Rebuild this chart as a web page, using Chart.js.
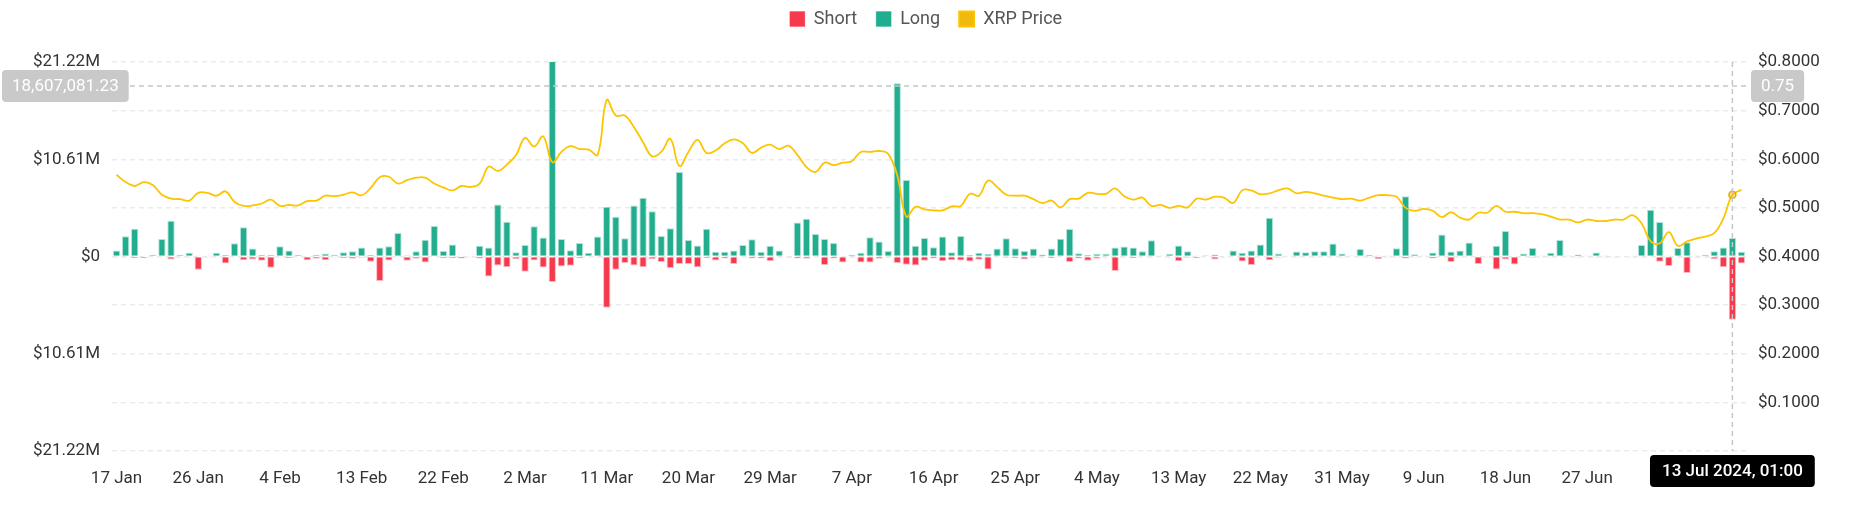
<!DOCTYPE html>
<html>
<head>
<meta charset="utf-8">
<title>XRP liquidations</title>
<script src="https://cdn.jsdelivr.net/npm/chart.js@4.4.1/dist/chart.umd.min.js"></script>
<style>
  html, body { margin: 0; padding: 0; background: #fff; }
  #wrap { width: 1852px; height: 525px; }
</style>
</head>
<body>
<div id="wrap"><canvas id="liq" width="1852" height="525"></canvas></div>
<script>
// days from 17 Jan 2024 to 14 Jul 2024
var startDate = new Date(2024, 0, 17);
var dayCount = 180;
var monthNames = ["Jan","Feb","Mar","Apr","May","Jun","Jul","Aug","Sep","Oct","Nov","Dec"];
var labels = [];
for (let i = 0; i < dayCount; i++) {
    var d = new Date(startDate.getFullYear(), startDate.getMonth(), startDate.getDate() + i);
    labels.push(d.getDate() + " " + monthNames[d.getMonth()]);
}

// long liquidations, millions USD
var longVals = [
    0.65,2.2,3.04,0.07,0.2,1.9,3.9,0.2,0.4,0.02,
    0.1,0.4,0.2,1.45,3.18,0.87,0.2,0.2,1.12,0.65,
    0.2,0.07,0.18,0.33,0.2,0.47,0.58,0.98,0.2,0.98,
    1.12,2.57,0.14,0.58,1.84,3.32,0.61,1.3,0.07,0.07,
    1.16,0.98,5.67,3.79,0.47,1.26,3.29,2.06,22.5,1.92,
    0.69,1.48,0.4,2.17,5.42,4.34,1.99,5.57,6.4,4.95,
    2.24,3.07,9.22,1.81,1.19,3.04,0.51,0.51,0.65,1.26,
    1.88,0.51,1.16,0.65,0.07,3.72,4.12,2.46,1.92,1.48,
    0.07,0.18,0.4,2.1,1.63,0.61,18.9,8.35,1.16,2.02,
    1.01,2.17,0.47,2.24,0.18,0.4,0.29,0.87,1.99,0.9,
    0.61,0.87,0.22,0.87,1.95,3.0,0.36,0.18,0.29,0.29,
    0.98,1.08,0.98,0.58,1.77,0.04,0.29,1.19,0.58,0.11,
    0.14,0.22,0.07,0.65,0.4,0.65,1.3,4.23,0.33,0.1,
    0.54,0.47,0.58,0.58,1.41,0.33,0.04,0.83,0.18,0.04,
    0.04,0.9,6.58,0.25,0.04,0.43,2.39,0.54,0.65,1.52,
    0.1,0.07,1.16,2.78,0.07,0.33,0.94,0.04,0.4,1.81,
    0.04,0.22,0.04,0.43,0.04,0.07,0.07,0.1,1.26,5.1,
    3.76,0.04,0.94,1.55,0.04,0.18,0.58,0.98,2.02,0.51
];

// short liquidations, millions USD (drawn below zero)
var shortVals = [
    0.02,0.02,0.2,0.18,0,0.1,0.33,0.05,0.05,1.45,
    0.02,0.1,0.76,0.1,0.4,0.33,0.47,1.23,0.05,0.2,
    0.1,0.4,0.25,0.4,0.05,0.2,0.25,0.14,0.58,2.67,
    0.43,0.1,0.47,0.25,0.65,0.07,0.18,0.18,0.22,0.04,
    0.22,2.17,0.98,1.16,0.29,1.66,0.43,1.19,2.78,1.08,
    1.01,0.18,0.1,0.04,5.6,1.45,0.72,0.98,1.16,0.29,
    0.61,1.26,0.83,0.83,1.16,0.18,0.43,0.22,0.83,0.1,
    0.22,0.22,0.51,0.04,0.04,0.22,0.25,0.07,0.94,0.22,
    0.65,0.04,0.65,0.65,0.25,0.04,0.72,0.9,0.98,0.47,
    0.22,0.51,0.4,0.43,0.54,0.36,1.41,0.07,0.14,0.18,
    0.33,0.14,0.04,0.18,0.07,0.61,0.22,0.47,0.25,0.04,
    1.59,0.04,0.18,0.1,0.04,0.07,0.04,0.51,0.14,0.18,
    0.07,0.33,0.02,0.07,0.54,0.94,0.1,0.4,0.14,0.07,
    0.04,0.1,0.04,0.07,0.1,0.04,0.07,0.04,0.04,0.29,
    0.04,0.04,0.22,0.04,0.07,0.22,0.1,0.61,0.04,0.1,
    0.83,0.04,1.41,0.33,0.87,0.07,0.14,0.04,0.04,0.07,
    0.1,0.04,0.1,0.04,0.04,0.04,0.07,0.04,0.04,0.07,
    0.58,1.05,0.04,1.81,0.04,0.04,0.29,1.16,6.9,0.76
];

// XRP price, USD
var priceVals = [
    0.568,0.553,0.545,0.553,0.547,0.527,0.519,0.518,0.515,0.531,
    0.531,0.525,0.534,0.512,0.504,0.505,0.509,0.517,0.504,0.506,
    0.505,0.514,0.515,0.525,0.524,0.527,0.532,0.526,0.541,0.563,
    0.564,0.550,0.557,0.562,0.562,0.550,0.542,0.536,0.545,0.543,
    0.550,0.585,0.576,0.589,0.608,0.644,0.626,0.647,0.594,0.615,
    0.627,0.621,0.620,0.609,0.722,0.690,0.690,0.666,0.635,0.606,
    0.615,0.642,0.586,0.615,0.640,0.613,0.618,0.633,0.641,0.633,
    0.613,0.624,0.630,0.621,0.628,0.609,0.584,0.574,0.593,0.588,
    0.593,0.596,0.615,0.615,0.617,0.611,0.567,0.482,0.502,0.497,
    0.495,0.495,0.503,0.504,0.529,0.525,0.556,0.543,0.527,0.525,
    0.525,0.518,0.510,0.515,0.501,0.518,0.519,0.531,0.529,0.529,
    0.540,0.524,0.517,0.521,0.504,0.506,0.500,0.504,0.501,0.519,
    0.517,0.523,0.521,0.510,0.536,0.536,0.528,0.530,0.536,0.540,
    0.530,0.533,0.530,0.525,0.521,0.518,0.519,0.515,0.521,0.526,
    0.526,0.523,0.500,0.494,0.498,0.494,0.481,0.491,0.480,0.476,
    0.490,0.490,0.504,0.492,0.492,0.489,0.489,0.487,0.482,0.476,
    0.476,0.470,0.476,0.473,0.473,0.476,0.476,0.485,0.468,0.431,
    0.427,0.450,0.422,0.431,0.437,0.441,0.448,0.478,0.527,0.537
];

// axis ranges and the hovered point shown in the picture
var yMax = 21.22e6;
var yTicks = [-4,-3,-2,-1,0,1,2,3,4].map(k => k * yMax / 4);
var hoverIndex = 178;
var hoverValue = 18607081.23;
var hoverTime = "13 Jul 2024, 01:00";

const RED = "#f6394c";
const GREEN = "#23ad8f";
const GOLD = "#fcc500";
const FONT = "Roboto";

Chart.defaults.font.family = FONT;
Chart.defaults.font.size = 17;
Chart.defaults.color = "#333";

function fmtMoney(v){
    if (Math.abs(v) < 1) return "$0";
    return "$" + (Math.abs(v) / 1e6).toFixed(2) + "M";
}

function roundBox(ctx, x, y, w, h, r){
    ctx.beginPath();
    ctx.moveTo(x + r, y);
    ctx.lineTo(x + w - r, y);
    ctx.quadraticCurveTo(x + w, y, x + w, y + r);
    ctx.lineTo(x + w, y + h - r);
    ctx.quadraticCurveTo(x + w, y + h, x + w - r, y + h);
    ctx.lineTo(x + r, y + h);
    ctx.quadraticCurveTo(x, y + h, x, y + h - r);
    ctx.lineTo(x, y + r);
    ctx.quadraticCurveTo(x, y, x + r, y);
    ctx.closePath();
}

// more room under the legend
const legendGap = {
    id: "legendGap",
    beforeInit(chart){
        var fit = chart.legend.fit;
        chart.legend.fit = function(){
            fit.call(this);
            this.height += 24;
        }
    }
};

// dashed crosshair and the three value boxes
const crosshair = {
    id: "crosshair",
    afterDatasetsDraw(chart){
        var ctx = chart.ctx, area = chart.chartArea;
        var x = chart.scales.x.getPixelForValue(hoverIndex);
        var y = chart.scales.y.getPixelForValue(hoverValue);
        ctx.save();
        ctx.strokeStyle = "#c6c6c6";
        ctx.lineWidth = 1.5;
        ctx.setLineDash([5,4]);
        ctx.beginPath();
        ctx.moveTo(area.left, y); ctx.lineTo(area.right, y);
        ctx.moveTo(x, area.top); ctx.lineTo(x, area.bottom);
        ctx.stroke();
        ctx.restore();
    },
    afterDraw(chart){
        var ctx = chart.ctx, area = chart.chartArea;
        var x = chart.scales.x.getPixelForValue(hoverIndex);
        var y = chart.scales.y.getPixelForValue(hoverValue);
        var leftText = hoverValue.toLocaleString("en-US", {minimumFractionDigits: 2, maximumFractionDigits: 2});
        var rightText = chart.scales.y1.getValueForPixel(y).toFixed(2);

        ctx.save();
        ctx.font = "17px " + FONT;
        ctx.textBaseline = "middle";
        ctx.textAlign = "center";

        // left value
        var w = ctx.measureText(leftText).width + 20;
        ctx.fillStyle = "#c9c9c9";
        roundBox(ctx, 2, y - 16, w, 32, 4);
        ctx.fill();
        ctx.fillStyle = "#fff";
        ctx.fillText(leftText, 2 + w / 2, y + 1);

        // right value
        var w2 = ctx.measureText(rightText).width + 20;
        ctx.fillStyle = "#c9c9c9";
        roundBox(ctx, area.right + 5, y - 16, w2, 32, 4);
        ctx.fill();
        ctx.fillStyle = "#fff";
        ctx.fillText(rightText, area.right + 5 + w2 / 2, y + 1);

        // time box under the axis
        ctx.font = "500 17px " + FONT;
        var w3 = ctx.measureText(hoverTime).width + 24;
        ctx.fillStyle = "#000";
        roundBox(ctx, x - w3 / 2, area.bottom + 4, w3, 32, 4);
        ctx.fill();
        ctx.fillStyle = "#fff";
        ctx.fillText(hoverTime, x, area.bottom + 21);
        ctx.restore();
    }
};

const ctx = document.getElementById("liq");

const liqChart = new Chart(ctx, {
    type: "bar",
    data: {
        labels: labels,
        datasets: [
            {
                label: "Short",
                data: shortVals.map(v => -v * 1e6),
                backgroundColor: RED,
                borderColor: "rgba(246,57,76,0.35)",
                borderWidth: 1,
                stack: "liq",
                yAxisID: "y",
                order: 2,
                categoryPercentage: 0.9,
                barPercentage: 0.9
            },
            {
                label: "Long",
                data: longVals.map(v => v * 1e6),
                backgroundColor: GREEN,
                borderColor: "rgba(35,173,143,0.35)",
                borderWidth: 1,
                stack: "liq",
                yAxisID: "y",
                order: 2,
                categoryPercentage: 0.9,
                barPercentage: 0.9
            },
            {
                type: "line",
                label: "XRP Price",
                data: priceVals,
                yAxisID: "y1",
                borderColor: GOLD,
                backgroundColor: "#f0b90b",
                borderWidth: 1.8,
                tension: 0.4,
                pointRadius: priceVals.map((p, i) => i === hoverIndex ? 3.5 : 0),
                pointBackgroundColor: "rgba(240,185,11,0.45)",
                pointBorderColor: "#e2ab00",
                pointBorderWidth: 1.5,
                order: 0
            }
        ]
    },
    options: {
        responsive: false,
        animation: false,
        events: [],
        layout: { padding: { top: -9, left: 0, right: 0, bottom: 0 } },
        plugins: {
            tooltip: { enabled: false },
            legend: {
                position: "top",
                labels: {
                    boxWidth: 15,
                    boxHeight: 15,
                    padding: 19,
                    color: "#555",
                    font: { size: 18 },
                    sort: (a, b) => a.datasetIndex - b.datasetIndex
                }
            }
        },
        scales: {
            x: {
                stacked: true,
                offset: true,
                grid: { display: false },
                border: { display: false },
                ticks: {
                    autoSkip: false,
                    maxRotation: 0,
                    padding: 10,
                    color: "#333",
                    callback: (v, i) => i % 9 === 0 ? labels[i] : ""
                },
                afterFit(scale){ scale.height = 74; }
            },
            y: {
                stacked: true,
                position: "left",
                min: -yMax,
                max: yMax,
                grid: { color: "#ebebeb", lineWidth: 1.5, drawTicks: false },
                border: { display: false, dash: [5,4] },
                ticks: {
                    padding: 12,
                    color: "#333",
                    callback: (v, i) => i % 2 === 0 ? fmtMoney(v) : ""
                },
                afterBuildTicks(scale){ scale.ticks = yTicks.map(v => ({ value: v })); },
                afterFit(scale){ scale.width = 112; }
            },
            y1: {
                position: "right",
                min: 0,
                max: 0.8,
                grid: { display: false, drawTicks: false },
                border: { display: false },
                ticks: {
                    stepSize: 0.1,
                    padding: 12,
                    color: "#333",
                    callback: v => v < 0.05 ? "" : "$" + v.toFixed(4)
                },
                afterFit(scale){ scale.width = 106; }
            }
        }
    },
    plugins: [legendGap, crosshair]
});
</script>
</body>
</html>
